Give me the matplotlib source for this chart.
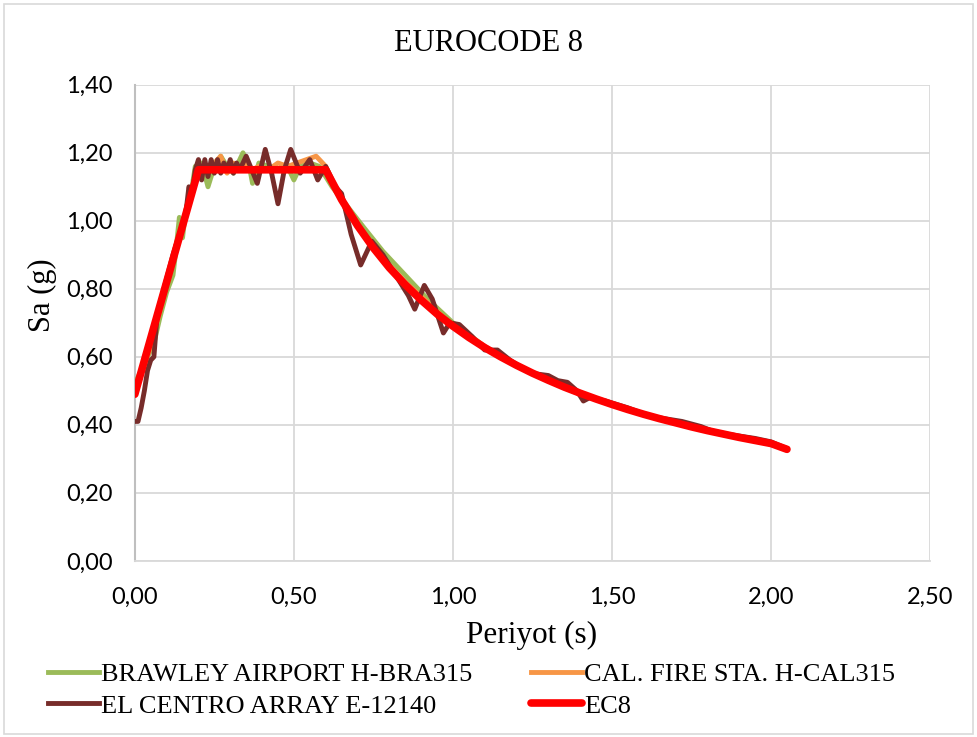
import matplotlib.pyplot as plt
from matplotlib.patches import Rectangle

# -----------------------------
# Data
# -----------------------------
t_bra = [0, 0.02, 0.04, 0.06, 0.08, 0.10, 0.12, 0.13, 0.14, 0.15, 0.16, 0.18, 0.19,
         0.21, 0.23, 0.25, 0.27, 0.29, 0.31, 0.34, 0.36, 0.37, 0.39, 0.42, 0.45, 0.48,
         0.50, 0.52, 0.55, 0.58, 0.62, 0.67, 0.72, 0.78, 0.85, 0.92, 1.00, 1.05, 1.10,
         1.20, 1.30, 1.40, 1.50, 1.60, 1.70, 1.80, 1.90, 2.00, 2.05]
sa_bra = [0.52, 0.56, 0.60, 0.64, 0.72, 0.79, 0.84, 0.92, 1.01, 0.95, 1.03, 1.10, 1.16,
          1.17, 1.10, 1.16, 1.19, 1.16, 1.14, 1.20, 1.16, 1.11, 1.17, 1.16, 1.15, 1.16,
          1.12, 1.16, 1.17, 1.16, 1.10, 1.04, 0.98, 0.91, 0.84, 0.77, 0.70, 0.665, 0.63,
          0.575, 0.53, 0.49, 0.46, 0.43, 0.405, 0.385, 0.365, 0.345, 0.33]

t_cal = [0, 0.02, 0.05, 0.08, 0.11, 0.13, 0.15, 0.17, 0.19, 0.21, 0.23, 0.25, 0.27,
         0.29, 0.31, 0.33, 0.35, 0.37, 0.39, 0.42, 0.45, 0.48, 0.51, 0.54, 0.57, 0.60,
         0.63, 0.67, 0.72, 0.78, 0.85, 0.92, 1.00, 1.05, 1.10, 1.20, 1.30, 1.40, 1.50,
         1.60, 1.70, 1.80, 1.90, 2.00, 2.05]
sa_cal = [0.49, 0.55, 0.63, 0.74, 0.85, 0.93, 0.98, 1.06, 1.13, 1.16, 1.14, 1.17, 1.19,
          1.14, 1.17, 1.15, 1.17, 1.15, 1.16, 1.15, 1.17, 1.16, 1.17, 1.18, 1.19, 1.16,
          1.10, 1.03, 0.96, 0.89, 0.82, 0.76, 0.69, 0.665, 0.63, 0.575, 0.53, 0.49, 0.46,
          0.43, 0.405, 0.385, 0.365, 0.345, 0.33]

t_elc = [0, 0.01, 0.02, 0.03, 0.04, 0.05, 0.06, 0.07, 0.08, 0.10, 0.12, 0.14, 0.16,
         0.17, 0.18, 0.19, 0.20, 0.21, 0.22, 0.23, 0.24, 0.25, 0.26, 0.27, 0.28, 0.29,
         0.30, 0.31, 0.32, 0.33, 0.35, 0.385, 0.41, 0.43, 0.45, 0.47, 0.49, 0.52, 0.55,
         0.575, 0.60, 0.63, 0.65, 0.68, 0.71, 0.745, 0.78, 0.82, 0.86, 0.88, 0.91, 0.935,
         0.97, 0.99, 1.02, 1.06, 1.10, 1.14, 1.18, 1.22, 1.26, 1.30, 1.33, 1.36, 1.39,
         1.41, 1.43, 1.48, 1.55, 1.62, 1.72, 1.78, 1.83, 1.88, 1.95, 2.00, 2.05]
sa_elc = [0.41, 0.41, 0.45, 0.50, 0.56, 0.59, 0.60, 0.72, 0.76, 0.83, 0.90, 0.96, 1.02,
          1.10, 1.08, 1.15, 1.18, 1.12, 1.18, 1.13, 1.18, 1.14, 1.18, 1.14, 1.17, 1.15,
          1.18, 1.14, 1.17, 1.15, 1.19, 1.11, 1.21, 1.14, 1.05, 1.15, 1.21, 1.14, 1.18,
          1.12, 1.16, 1.10, 1.08, 0.96, 0.87, 0.94, 0.90, 0.84, 0.78, 0.74, 0.81, 0.77,
          0.67, 0.70, 0.695, 0.66, 0.62, 0.62, 0.59, 0.565, 0.55, 0.545, 0.53, 0.525, 0.50,
          0.47, 0.48, 0.47, 0.45, 0.425, 0.41, 0.395, 0.376, 0.37, 0.36, 0.35, 0.33]

t_ec8 = [0, 0.20, 0.60, 0.65, 0.70, 0.75, 0.80, 0.85, 0.90, 0.95, 1.00, 1.05, 1.10,
         1.15, 1.20, 1.25, 1.30, 1.35, 1.40, 1.45, 1.50, 1.55, 1.60, 1.65, 1.70, 1.75,
         1.80, 1.85, 1.90, 1.95, 2.00, 2.05]
sa_ec8 = [0.49, 1.15, 1.15, 1.062, 0.986, 0.92, 0.862, 0.812, 0.767, 0.726, 0.69, 0.657,
          0.627, 0.60, 0.575, 0.552, 0.531, 0.511, 0.493, 0.476, 0.46, 0.445, 0.431, 0.418,
          0.406, 0.394, 0.383, 0.373, 0.363, 0.354, 0.345, 0.328]

x_ticks = [0, 0.5, 1.0, 1.5, 2.0, 2.5]
y_ticks = [0, 0.2, 0.4, 0.6, 0.8, 1.0, 1.2, 1.4]

serif = "Liberation Serif"
sans = "Lato"

# -----------------------------
# Plot
# -----------------------------
fig = plt.figure(figsize=(9.77, 7.37), dpi=100)
ax = fig.add_axes([0.138, 0.239, 0.814, 0.646])

l1, = ax.plot(t_bra, sa_bra, color="#9BBB59", lw=3.5, solid_joinstyle="round", zorder=3)
l2, = ax.plot(t_cal, sa_cal, color="#F79646", lw=3.5, solid_joinstyle="round", zorder=4)
l3, = ax.plot(t_elc, sa_elc, color="#772C2A", lw=3.5, solid_joinstyle="round", zorder=5)
l4, = ax.plot(t_ec8, sa_ec8, color="#FF0000", lw=5.5, solid_joinstyle="round",
              solid_capstyle="round", zorder=6)

ax.set_xlim(0, 2.5)
ax.set_ylim(0, 1.4)
ax.set_xticks(x_ticks)
ax.set_yticks(y_ticks)
ax.set_xticklabels([f"{v:.2f}".replace(".", ",") for v in x_ticks], fontfamily=sans, fontsize=17)
ax.set_yticklabels([f"{v:.2f}".replace(".", ",") for v in y_ticks], fontfamily=sans, fontsize=17)
ax.tick_params(axis="x", length=0, pad=19)
ax.tick_params(axis="y", length=0, pad=16)
ax.grid(True, color="#D9D9D9", lw=1.3)
ax.set_axisbelow(True)
for s in ["top", "right"]:
    ax.spines[s].set_visible(False)
ax.spines["left"].set_color("#BFBFBF")
ax.spines["left"].set_linewidth(1.5)
ax.spines["bottom"].set_color("#D9D9D9")
ax.spines["bottom"].set_linewidth(1.3)

fig.text(0.5, 0.941, "EUROCODE 8", ha="center", va="center", fontfamily=serif, fontsize=22)
fig.text(0.043, 0.6, "Sa (g)", ha="center", va="center", rotation=90,
         fontfamily=serif, fontsize=22)
fig.text(0.544, 0.138, "Periyot (s)", ha="center", va="center", fontfamily=serif, fontsize=22.5)

fig.legend([l1, l3, l2, l4],
           ["BRAWLEY AIRPORT H-BRA315", "EL CENTRO ARRAY E-12140",
            "CAL. FIRE STA. H-CAL315", "EC8"],
           ncol=2, loc="upper left", bbox_to_anchor=(0.038, 0.115), frameon=False,
           prop={"family": serif, "size": 19}, handlelength=1.95, handletextpad=0.08,
           columnspacing=2.2, labelspacing=0.3, borderaxespad=0)

fig.patches.append(Rectangle((0.004, 0.004), 0.992, 0.99, transform=fig.transFigure,
                             fill=False, edgecolor="#D9D9D9", lw=1.2))

plt.savefig("out.png", dpi=100)
